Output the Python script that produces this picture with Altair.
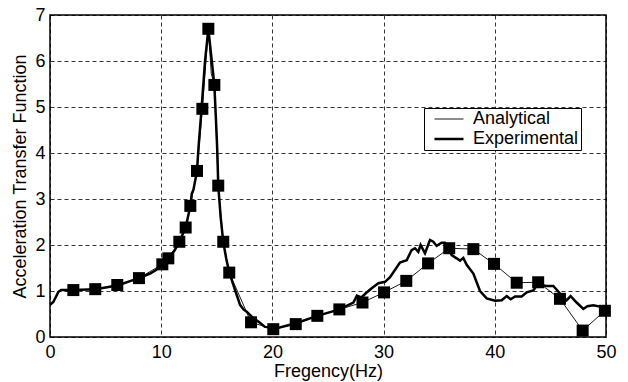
import altair as alt
import pandas as pd

# Analytical curve (thin line) with square markers
ana_f = [2.1, 4.07, 6.05, 8.0, 10.1, 10.64, 11.63, 12.2, 12.62, 13.22, 13.7, 14.24, 14.5, 14.78,
         15.13, 15.58, 16.12, 18.08, 20.08, 22.1, 24.04, 26.02, 28.1, 30.04, 32.04, 34.0, 35.9,
         38.07, 39.93, 41.97, 43.9, 45.86, 47.9, 49.9]
ana_v = [1.02, 1.04, 1.13, 1.28, 1.58, 1.71, 2.07, 2.38, 2.85, 3.61, 4.96, 6.70, 5.73, 5.48,
         3.29, 2.07, 1.40, 0.32, 0.17, 0.28, 0.46, 0.60, 0.75, 0.97, 1.22, 1.60, 1.93,
         1.91, 1.59, 1.18, 1.19, 0.83, 0.14, 0.57]

# marker positions (measured points)
mk_f = [2.1, 4.07, 6.05, 8.0, 10.1, 10.64, 11.63, 12.2, 12.62, 13.22, 13.7, 14.24, 14.78,
        15.13, 15.58, 16.12, 18.08, 20.08, 22.1, 24.04, 26.02, 28.1, 30.04, 32.04, 34.0, 35.9,
        38.07, 39.93, 41.97, 43.9, 45.86, 47.9, 49.9]
mk_v = [1.02, 1.04, 1.13, 1.28, 1.58, 1.71, 2.07, 2.38, 2.85, 3.61, 4.96, 6.70, 5.48,
        3.29, 2.07, 1.40, 0.32, 0.17, 0.28, 0.46, 0.60, 0.75, 0.97, 1.22, 1.60, 1.93,
        1.91, 1.59, 1.18, 1.19, 0.83, 0.14, 0.57]

# Experimental curve (thick line)
exp_f = [0, 0.3, 0.55, 0.75, 1.0, 2.1, 4.07, 6.05, 8.0, 9.0, 9.5, 10.1, 10.64, 11.2, 11.63,
         12.2, 12.62, 12.75, 12.9, 13.22, 13.35, 13.64, 13.94, 14.24, 14.78, 14.98, 15.05,
         15.13, 15.35, 15.58, 15.85, 16.12, 16.34, 16.64, 16.84, 17.09, 17.4, 17.69, 18.28,
         18.88, 19.33, 19.78, 20.08, 22.1, 24.04, 26.02, 27.28, 27.6, 28.0, 28.4, 28.93,
         29.53, 30.13, 30.58, 31.47, 32.08, 32.52, 32.82, 33.12, 33.33, 33.72, 34.17, 34.47,
         34.77, 35.22, 35.52, 35.8, 36.12, 36.57, 36.87, 37.17, 37.47, 38.07, 38.67, 39.27,
         40.02, 40.62, 41.07, 41.43, 41.82, 42.42, 42.87, 43.47, 43.8, 44.06, 44.66, 45.26,
         45.71, 46.16, 46.46, 46.82, 47.36, 47.96, 48.32, 48.86, 49.46, 49.9]
exp_v = [0.70, 0.76, 0.88, 0.98, 1.02, 1.02, 1.04, 1.12, 1.28, 1.38, 1.45, 1.58, 1.71, 1.88, 2.07,
         2.38, 2.85, 3.12, 3.20, 3.61, 4.10, 5.00, 6.00, 6.70, 5.48, 4.43, 4.00,
         3.29, 2.60, 2.07, 1.70, 1.40, 1.24, 1.02, 0.88, 0.70, 0.60, 0.55, 0.41,
         0.31, 0.22, 0.21, 0.17, 0.30, 0.46, 0.60, 0.75, 0.90, 0.86, 0.95, 1.06,
         1.17, 1.20, 1.30, 1.62, 1.67, 1.89, 1.93, 1.85, 2.00, 1.82, 2.11, 2.07,
         1.98, 2.05, 2.05, 1.95, 1.78, 1.71, 1.66, 1.72, 1.57, 1.38, 1.00, 0.84,
         0.79, 0.80, 0.89, 0.82, 0.88, 0.88, 0.97, 1.01, 1.13, 1.13, 1.11, 1.11,
         0.99, 0.86, 0.80, 0.89, 0.75, 0.61, 0.67, 0.69, 0.66, 0.59]

series_names = ["Analytical", "Experimental"]
x_ticks = [0, 10, 20, 30, 40, 50]
y_ticks = [0, 1, 2, 3, 4, 5, 6, 7]

df_lines = pd.concat([
    pd.DataFrame({"f": ana_f, "v": ana_v, "series": series_names[0], "i": range(len(ana_f))}),
    pd.DataFrame({"f": exp_f, "v": exp_v, "series": series_names[1], "i": range(len(exp_f))}),
])
df_mk = pd.DataFrame({"f": mk_f, "v": mk_v})

FONT = "Liberation Sans"

x_enc = alt.X("f:Q",
              scale=alt.Scale(domain=[0, 50], nice=False, zero=False),
              axis=alt.Axis(values=x_ticks, title="Fregency(Hz)", format="d",
                            labelPadding=6, titlePadding=1, labelFlush=False))
y_enc = alt.Y("v:Q",
              scale=alt.Scale(domain=[0, 7], nice=False),
              axis=alt.Axis(values=y_ticks, title="Acceleration Transfer Function", format="d",
                            labelPadding=5, titlePadding=5, labelFlush=False))

lines = alt.Chart(df_lines).mark_line(color="black").encode(
    x=x_enc,
    y=y_enc,
    detail="series:N",
    order="i:Q",
    strokeWidth=alt.StrokeWidth(
        "series:N",
        scale=alt.Scale(domain=series_names, range=[0.9, 2.5]),
        legend=alt.Legend(title=None, orient="none", legendX=374, legendY=93,
                          symbolType="M-0.07,0H3.8", symbolSize=225,
                          symbolStrokeColor="black",
                          labelFontSize=18, labelFont=FONT, labelColor="black",
                          fillColor="white", strokeColor="black", padding=2,
                          rowPadding=2, labelOffset=29),
    ),
)

markers = alt.Chart(df_mk).mark_point(shape="square", filled=True, color="black",
                                       size=144, opacity=1).encode(x="f:Q", y="v:Q")

chart = alt.layer(lines, markers).properties(
    width=556, height=322,
    autosize=alt.AutoSizeParams(type="none"),
    padding={"left": 50, "top": 15, "right": 22, "bottom": 45},
).configure_view(
    stroke="black", strokeWidth=1.5
).configure_axis(
    grid=True, gridColor="black", gridDash=[4, 3], gridWidth=0.8, gridOpacity=1,
    domain=False, ticks=False,
    labelFont=FONT, labelFontSize=18, labelColor="black",
    titleFont=FONT, titleFontSize=18, titleFontWeight="normal", titleColor="black",
)

chart.save("out.html", embed_options={"renderer": "svg", "actions": False})
